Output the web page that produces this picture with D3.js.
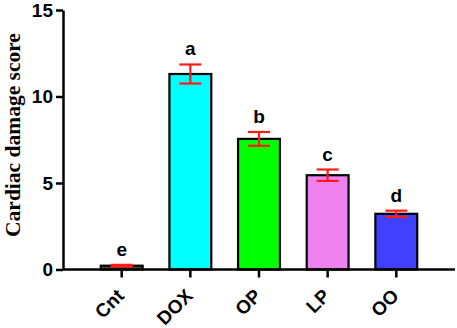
<!DOCTYPE html>
<meta charset="utf-8">
<style>
    body { margin: 0; background: #fff; }
    .axis path, .axis line { stroke: #000; stroke-width: 2.5px; }
    .axis text { font-family: Arial, "Liberation Sans", sans-serif; font-weight: bold; fill: #000; }
</style>
<body>
<script src="https://cdn.jsdelivr.net/npm/d3@7"></script>
<script>

    var groups = ["Cnt", "DOX", "OP", "LP", "OO"];
    var means = [0.22, 11.3, 7.55, 5.45, 3.22];
    var errs = [0.05, 0.55, 0.4, 0.33, 0.18];
    var letters = ["e", "a", "b", "c", "d"];
    var colors = ["#4f4f2c", "#00ffff", "#00ff00", "#ee82ee", "#4040ff"];
    var yTicks = [0, 5, 10, 15];

    var width = 457,
        height = 328;

    var svg = d3.select("body").append("svg")
        .attr("width", width)
        .attr("height", height);

    var x = d3.scaleBand()
        .domain(groups)
        .range([63, 455])
        .paddingInner(0.39)
        .paddingOuter(0.55);

    var y = d3.scaleLinear()
        .domain([0, 15])
        .range([269.5, 10]);

    // bars
    svg.append("g").selectAll("rect")
        .data(groups)
        .enter().append("rect")
        .attr("x", function(d) { return x(d); })
        .attr("y", function(d, i) { return y(means[i]); })
        .attr("width", x.bandwidth())
        .attr("height", function(d, i) { return y(0) - y(means[i]); })
        .style("fill", function(d, i) { return colors[i]; })
        .style("stroke", "#000")
        .style("stroke-width", 2.2);

    // error bars
    var eb = svg.append("g").selectAll("g")
        .data(groups)
        .enter().append("g")
        .attr("transform", function(d) { return "translate(" + (x(d) + x.bandwidth() / 2) + ",0)"; })
        .style("stroke", "#ff1a1a")
        .style("stroke-width", 2.2);

    eb.append("line")
        .attr("y1", function(d, i) { return y(means[i] + errs[i]); })
        .attr("y2", function(d, i) { return y(means[i] - errs[i]); });
    eb.append("line")
        .attr("x1", -11).attr("x2", 11)
        .attr("y1", function(d, i) { return y(means[i] + errs[i]); })
        .attr("y2", function(d, i) { return y(means[i] + errs[i]); });
    eb.append("line")
        .attr("x1", -11).attr("x2", 11)
        .attr("y1", function(d, i) { return y(means[i] - errs[i]); })
        .attr("y2", function(d, i) { return y(means[i] - errs[i]); });

    // significance letters
    svg.append("g").selectAll("text")
        .data(groups)
        .enter().append("text")
        .attr("x", function(d) { return x(d) + x.bandwidth() / 2; })
        .attr("y", function(d, i) { return y(means[i] + errs[i]) - 9; })
        .attr("text-anchor", "middle")
        .style("font-family", "Arial, 'Liberation Sans', sans-serif")
        .style("font-weight", "bold")
        .style("font-size", "19px")
        .text(function(d, i) { return letters[i]; });

    // axes
    var xAxis = svg.append("g")
        .attr("class", "axis")
        .attr("transform", "translate(0," + y(0) + ")")
        .call(d3.axisBottom(x).tickSize(8).tickSizeOuter(0));
    xAxis.select(".domain").attr("d", "M63,0H455");
    xAxis.selectAll("text")
        .style("font-size", "19px")
        .attr("text-anchor", "end")
        .attr("transform", "rotate(-45)")
        .attr("dx", "-17px")
        .attr("dy", "11px");

    svg.append("g")
        .attr("class", "axis")
        .attr("transform", "translate(63,0)")
        .call(d3.axisLeft(y).tickValues(yTicks).tickSize(7).tickSizeOuter(0).tickPadding(3))
        .selectAll("text")
        .style("font-size", "19px");

    svg.append("text")
        .attr("transform", "translate(20,135) rotate(-90)")
        .attr("text-anchor", "middle")
        .style("font-family", "'Liberation Serif', 'Times New Roman', serif")
        .style("font-weight", "bold")
        .style("font-size", "21.5px")
        .text("Cardiac damage score");

</script>
